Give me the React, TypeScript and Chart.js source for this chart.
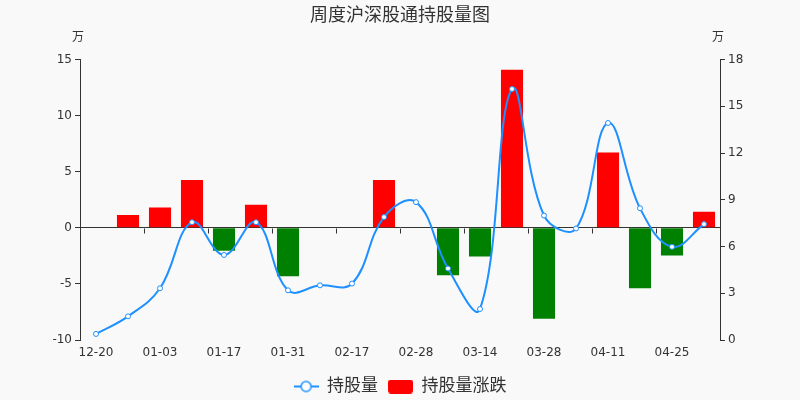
import { useEffect, useRef } from 'react';
import { Chart, registerables } from 'chart.js';

Chart.register(...registerables);

const categories = ['12-20', '12-27', '01-03', '01-10', '01-17', '01-24', '01-31', '02-07', '02-17', '02-21', '02-28', '03-07', '03-14', '03-21', '03-28', '04-03', '04-11', '04-18', '04-25', '05-06'];
const holdings = [0.39, 1.52, 3.32, 7.56, 5.46, 7.56, 3.19, 3.51, 3.62, 7.89, 8.85, 4.59, 1.99, 16.11, 7.99, 7.16, 13.93, 8.46, 5.98, 7.44];
const changes: (number | null)[] = [null, 1.15, 1.81, 4.26, -2.05, 2.05, -4.31, null, null, 4.26, null, -4.23, -2.56, 14.1, -8.1, null, 6.72, -5.39, -2.47, 1.43];
const leftAxis = [-10, 15, 5];
const rightAxis = [0, 18, 3];
const seriesNames = ['持股量', '持股量涨跌'];
const titleText = '周度沪深股通持股量图';
const unitText = '万';

const FONT = '"DejaVu Sans", "Noto Sans CJK SC", sans-serif';
const TEXT = '#333';
const BLUE = '#1e90ff';
const RED = '#ff0000';
const GREEN = '#008000';

function makeLineIcon() {
  const c = document.createElement('canvas');
  c.width = 25; c.height = 14;
  const g = c.getContext('2d')!;
  g.strokeStyle = BLUE; g.lineWidth = 2;
  g.beginPath(); g.moveTo(0, 7); g.lineTo(25, 7); g.stroke();
  g.fillStyle = '#fff'; g.lineWidth = 1.5;
  g.beginPath(); g.arc(12.5, 7, 5, 0, Math.PI * 2); g.fill(); g.stroke();
  return c;
}

function makeBarIcon() {
  const c = document.createElement('canvas');
  c.width = 25; c.height = 14;
  const g = c.getContext('2d')!;
  g.fillStyle = RED;
  g.beginPath();
  (g as any).roundRect(0, 0, 25, 14, 3);
  g.fill();
  return c;
}

const decor = {
  id: 'decor',
  afterDraw(chart: any) {
    const { ctx, chartArea, scales } = chart;
    const x = scales.x;
    const y = scales.y;
    const y0 = Math.round(y.getPixelForValue(0)) + 0.5;
    ctx.save();
    ctx.strokeStyle = TEXT;
    ctx.lineWidth = 1;
    for (let i = 1; i < categories.length - 1; i += 2) {
      const px = Math.round((x.getPixelForValue(i) + x.getPixelForValue(i + 1)) / 2) + 0.5;
      ctx.beginPath();
      ctx.moveTo(px, y0);
      ctx.lineTo(px, y0 + 5);
      ctx.stroke();
    }
    ctx.fillStyle = TEXT;
    ctx.font = '12px ' + FONT;
    ctx.textAlign = 'center';
    ctx.textBaseline = 'middle';
    ctx.fillText(unitText, chartArea.left - 2, chartArea.top - 22);
    ctx.fillText(unitText, chartArea.right - 2, chartArea.top - 22);
    ctx.restore();
  },
};

export default function App() {
  const ref = useRef<HTMLCanvasElement>(null);
  useEffect(() => {
    document.body.style.margin = '0';
    const lineIcon = makeLineIcon();
    const barIcon = makeBarIcon();
    const chart = new Chart(ref.current!, {
      type: 'bar',
      data: {
        labels: categories,
        datasets: [
          {
            type: 'line',
            label: seriesNames[0],
            data: holdings,
            yAxisID: 'y1',
            borderColor: BLUE,
            borderWidth: 2,
            tension: 0.4,
            pointRadius: 2.5,
            pointBackgroundColor: '#fff',
            pointBorderColor: BLUE,
            pointBorderWidth: 1,
            order: 0,
          } as any,
          {
            type: 'bar',
            label: seriesNames[1],
            data: changes,
            yAxisID: 'y',
            backgroundColor: (c: any) => ((c.raw ?? 0) >= 0 ? RED : GREEN),
            barPercentage: 0.69,
            categoryPercentage: 1,
            order: 1,
          } as any,
        ],
      },
      options: {
        responsive: false,
        animation: false,
        layout: { padding: { left: 0, right: 0, top: 0, bottom: -5 } },
        plugins: {
          title: {
            display: true,
            text: titleText,
            color: TEXT,
            font: { family: FONT, size: 18, weight: 'normal' },
            padding: { top: 6, bottom: 32 },
          },
          legend: {
            position: 'bottom',
            labels: {
              color: TEXT,
              font: { family: FONT, size: 17 },
              usePointStyle: true,
              pointStyleWidth: 25,
              boxWidth: 25,
              boxHeight: 14,
              padding: 10,
              generateLabels: () => [
                { text: seriesNames[0], pointStyle: lineIcon as any, datasetIndex: 0, hidden: false, fontColor: TEXT, lineWidth: 0 } as any,
                { text: seriesNames[1], pointStyle: barIcon as any, datasetIndex: 1, hidden: false, fontColor: TEXT, lineWidth: 0 } as any,
              ],
            },
          },
          tooltip: { enabled: false },
        },
        scales: {
          x: {
            grid: { display: false, drawTicks: false },
            border: { display: false },
            ticks: {
              color: TEXT,
              font: { family: FONT, size: 12 },
              autoSkip: false,
              maxRotation: 0,
              padding: 6,
              callback: (_v: any, i: number) => (i % 2 === 0 ? categories[i] : ''),
            },
            afterFit: (s: any) => { s.height = 28; },
          },
          y: {
            position: 'left',
            min: leftAxis[0],
            max: leftAxis[1],
            ticks: { stepSize: leftAxis[2], color: TEXT, font: { family: FONT, size: 12 }, padding: 3 },
            grid: {
              color: (c: any) => (c.tick && c.tick.value === 0 ? TEXT : 'transparent'),
              tickColor: TEXT,
              tickLength: 5,
            },
            border: { display: true, color: TEXT },
            afterFit: (s: any) => { s.width = 80; },
          },
          y1: {
            position: 'right',
            min: rightAxis[0],
            max: rightAxis[1],
            ticks: { stepSize: rightAxis[2], color: TEXT, font: { family: FONT, size: 12 }, padding: 3 },
            grid: { drawOnChartArea: false, tickColor: TEXT, tickLength: 5 },
            border: { display: true, color: TEXT },
            afterFit: (s: any) => { s.width = 80; },
          },
        },
      },
      plugins: [decor],
    } as any);
    return () => chart.destroy();
  }, []);
  return (
    <div style={{ width: 800, height: 400, background: '#f9f9f9' }}>
      <canvas ref={ref} width={800} height={400} />
    </div>
  );
}
